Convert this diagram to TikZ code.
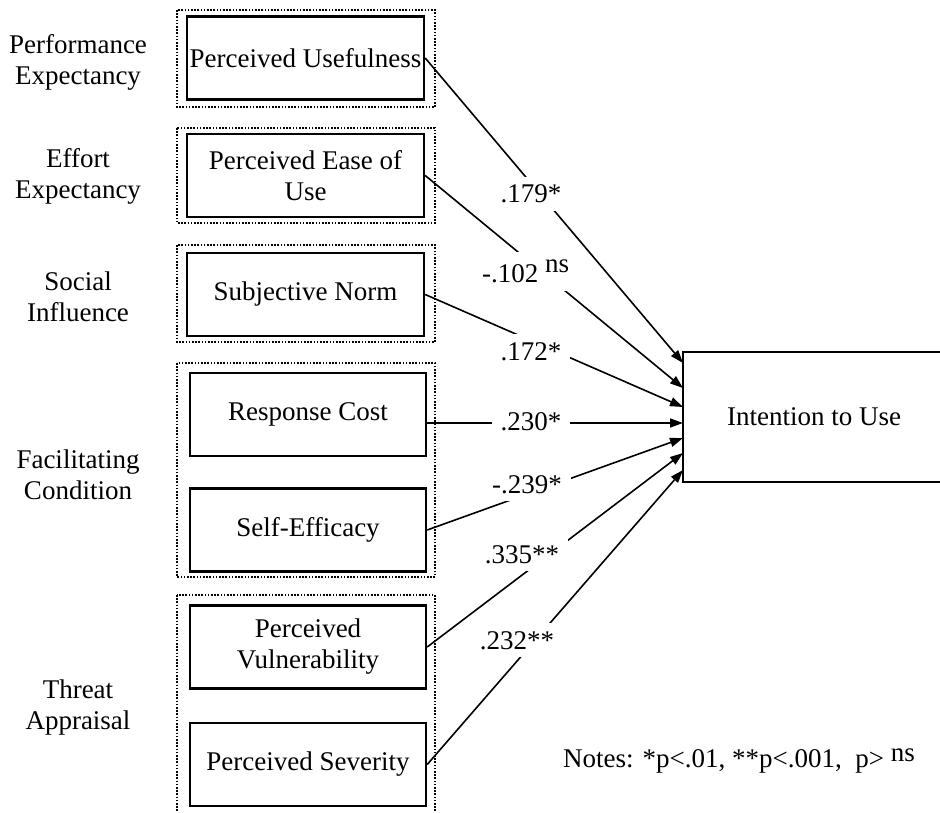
\documentclass[tikz,border=0pt]{standalone}
\usepackage{fontspec}
\setmainfont{Liberation Serif}
\usetikzlibrary{arrows.meta}
\begin{document}
\begin{tikzpicture}[x=1pt,y=-1pt,
  every node/.style={font=\fontsize{27}{31}\selectfont},
  construct/.style={draw, line width=2.4pt, minimum width=236pt, minimum height=83pt, align=center, inner sep=2pt},
  groupbox/.style={draw, line width=2pt, dash pattern=on 1.6pt off 1.6pt},
  family/.style={align=center, inner sep=0pt},
  effect/.style={line width=1.6pt, -{Triangle[length=13pt,width=9pt]}},
  coef/.style={fill=white, inner xsep=9pt, inner ysep=8pt, anchor=base}
]
\useasboundingbox (0,0) rectangle (940,813);
\clip (0,0) rectangle (940,813);

% construct groups (dotted frames)
\draw[groupbox] (177,10) rectangle (435,107);
\draw[groupbox] (177,128) rectangle (435,223);
\draw[groupbox] (177,245) rectangle (435,342);
\draw[groupbox] (177,363) rectangle (435,577);
\draw[groupbox] (177,595) rectangle (435,830);

% UTAUT families
\node[family] (fpe) at (78,62) {Performance\\Expectancy};
\node[family] (fee) at (78,176) {Effort\\Expectancy};
\node[family] (fsi) at (78,297) {Social\\Influence};
\node[family] (ffc) at (78,475) {Facilitating\\Condition};
\node[family] (fta) at (78,708) {Threat\\Appraisal};

% predictors
\node[construct, minimum width=237pt] (pu) at (305.5,58) {Perceived Usefulness};
\node[construct, minimum width=237pt] (pe) at (305.5,175.5) {Perceived Ease of\\Use};
\node[construct, minimum width=237pt] (sn) at (305.5,294.5) {Subjective Norm};
\node[construct] (rc) at (308,414.5) {Response Cost};
\node[construct] (se) at (308,530) {Self-Efficacy};
\node[construct] (pv) at (308,647) {Perceived\\Vulnerability};
\node[construct] (ps) at (308,764.5) {Perceived Severity};

% outcome
\node[draw, line width=2pt, minimum width=262pt, minimum height=130pt] (itu) at (814,417) {Intention to Use};

% arrow end points on the outcome box
\coordinate (t1) at (683,363);
\coordinate (t2) at (683,388);
\coordinate (t3) at (683,407);
\coordinate (t4) at (683,423);
\coordinate (t5) at (683,438);
\coordinate (t6) at (683,453);
\coordinate (t7) at (683,470);

\draw[effect] (pu.east) -- (t1);
\draw[effect] (pe.east) -- (t2);
\draw[effect] (sn.east) -- (t3);
\draw[effect] (rc.east |- t4) -- (t4);
\draw[effect] (se.east) -- (t5);
\draw[effect] (pv.east) -- (t6);
\draw[effect] (ps.east) -- (t7);

% path coefficients
\node[coef] (c1) at (531,203) {.179*};
\node[coef, anchor=base west] (c2) at (473,283) {-.102\ \raisebox{10pt}{ns}};
\node[coef] (c3) at (531,360) {.172*};
\node[coef] (c4) at (531,430) {.230*};
\node[coef] (c5) at (527,493) {-.239*};
\node[coef] (c6) at (522,563) {.335**};
\node[coef] (c7) at (517,649) {.232**};

% significance notes
\node[inner sep=0pt, anchor=base west] (notes) at (563,767) {Notes: *p<.01, **p<.001,\ \ p> \raisebox{6pt}{ns}};
\end{tikzpicture}
\end{document}
